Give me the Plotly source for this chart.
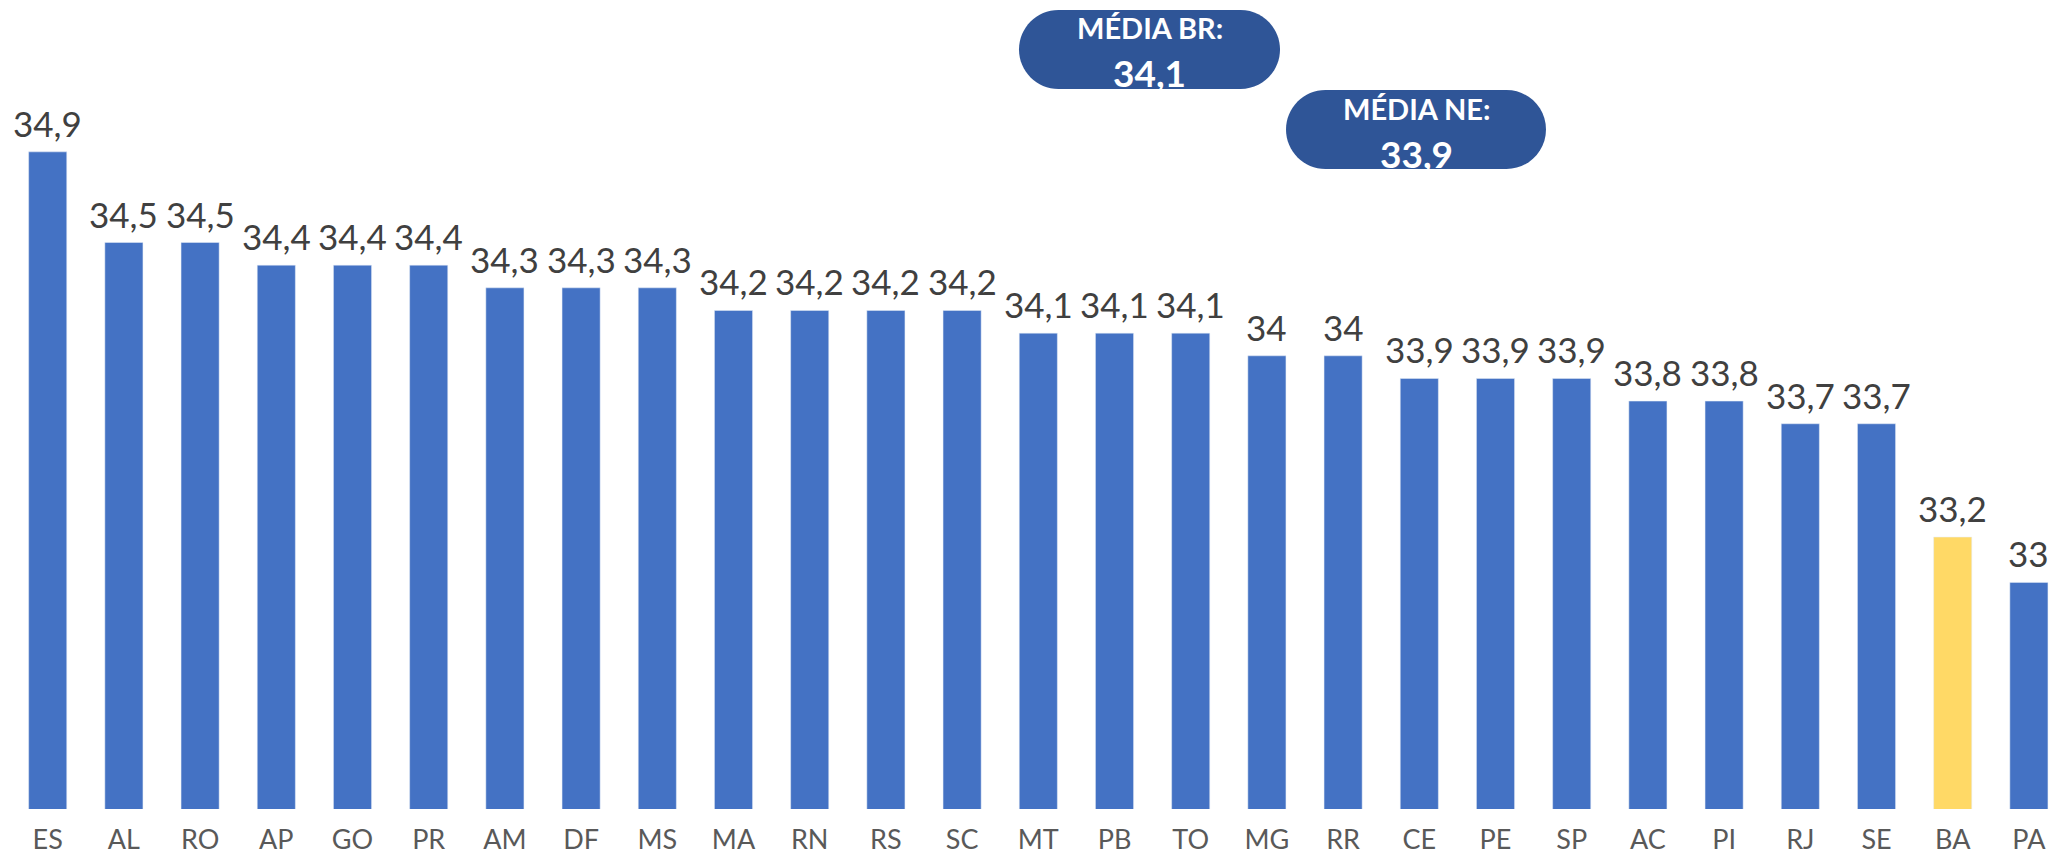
import plotly.graph_objects as go

states = ["ES","AL","RO","AP","GO","PR","AM","DF","MS","MA","RN","RS","SC","MT","PB","TO",
          "MG","RR","CE","PE","SP","AC","PI","RJ","SE","BA","PA"]
values = [34.9,34.5,34.5,34.4,34.4,34.4,34.3,34.3,34.3,34.2,34.2,34.2,34.2,34.1,34.1,34.1,
          34.0,34.0,33.9,33.9,33.9,33.8,33.8,33.7,33.7,33.2,33.0]
highlight = "BA"
media_labels = ["MÉDIA BR:", "MÉDIA NE:"]
media_values = [34.1, 33.9]

def fmt(v):
    s = f"{v:.1f}"
    if s.endswith(".0"):
        s = s[:-2]
    return s.replace(".", ",")

W, H = 2052, 857
ML, MR, MT, MB = 0, 0, 5, 48
PW, PH = W - ML - MR, H - MT - MB
SLOT = 76.2
X0PX = 47.7
xr = [-X0PX / SLOT, (PW - X0PX) / SLOT]
PXU = 226.6
yr = [32, 32 + PH / PXU]

colors = ["#FFD966" if s == highlight else "#4472C4" for s in states]

fig = go.Figure(go.Bar(x=list(range(len(states))), y=values, marker_color=colors,
                       width=0.5, hoverinfo="skip"))

for i, v in enumerate(values):
    fig.add_annotation(x=i, y=v, text=fmt(v), showarrow=False, yanchor="bottom",
                       yshift=6, font=dict(family="Lato", size=35, color="#404040"))

def px2paper(x, y):
    return (x - ML) / PW, (H - MB - y) / PH

def pill(x0, y0, x1, y1):
    r = (y1 - y0) / 2
    k = 0.5523 * r
    yc = (y0 + y1) / 2
    def P(x, y):
        a, b = px2paper(x, y)
        return f"{a:.5f},{b:.5f}"
    d = f"M {P(x0 + r, y0)} L {P(x1 - r, y0)} "
    d += f"C {P(x1 - r + k, y0)} {P(x1, yc - k)} {P(x1, yc)} "
    d += f"C {P(x1, yc + k)} {P(x1 - r + k, y1)} {P(x1 - r, y1)} "
    d += f"L {P(x0 + r, y1)} "
    d += f"C {P(x0 + r - k, y1)} {P(x0, yc + k)} {P(x0, yc)} "
    d += f"C {P(x0, yc - k)} {P(x0 + r - k, y0)} {P(x0 + r, y0)} Z"
    return d

boxes = [(1019, 10, 1280, 89), (1286, 90, 1546, 169)]
for (bx0, by0, bx1, by1), lab, val in zip(boxes, media_labels, media_values):
    fig.add_shape(type="path", path=pill(bx0, by0, bx1, by1), xref="paper", yref="paper",
                  fillcolor="#2F5597", line=dict(width=0), layer="above")
    cx, _ = px2paper((bx0 + bx1) / 2, 0)
    _, ty = px2paper(0, by0 + 18)
    _, vy = px2paper(0, by0 + 63)
    fig.add_annotation(x=cx, y=ty, xref="paper", yref="paper", text=f"<b>{lab}</b>",
                       xanchor="center", yanchor="middle",
                       showarrow=False, font=dict(family="Lato", size=29, color="white"))
    fig.add_annotation(x=cx, y=vy, xref="paper", yref="paper", text=f"<b>{fmt(val)}</b>",
                       xanchor="center", yanchor="middle",
                       showarrow=False, font=dict(family="Lato", size=37, color="white"))

fig.update_layout(
    width=W, height=H, margin=dict(l=ML, r=MR, t=MT, b=MB),
    plot_bgcolor="white", paper_bgcolor="white", showlegend=False,
    xaxis=dict(range=xr, tickmode="array", tickvals=list(range(len(states))), ticktext=states,
               showgrid=False, zeroline=False, showline=False, ticks="",
               tickfont=dict(family="Lato", size=27, color="#595959"), ticklabelstandoff=12),
    yaxis=dict(range=yr, visible=False, showgrid=False),
)
fig.write_html("out.html", config={"displayModeBar": False},
               post_script="document.body.style.margin='0';document.body.style.overflow='hidden';")
